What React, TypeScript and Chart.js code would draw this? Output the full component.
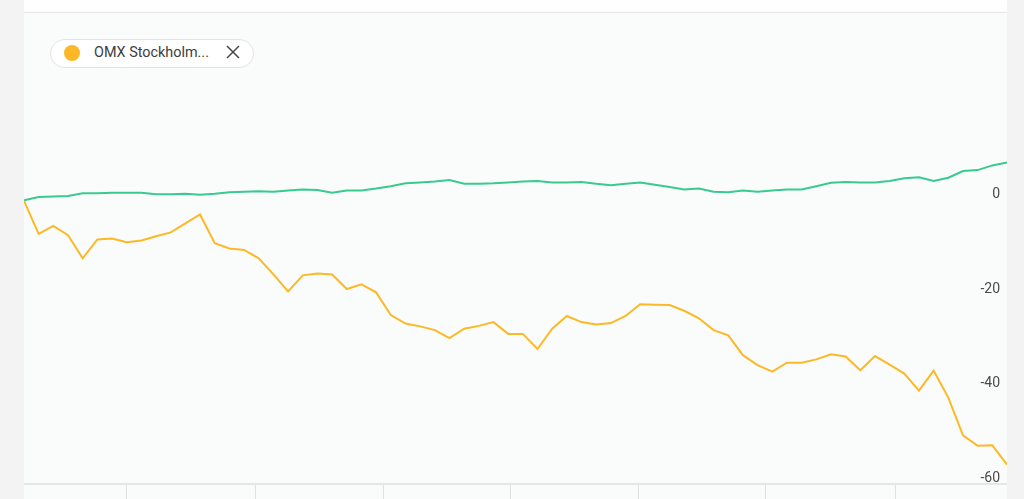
import React, { useEffect, useRef } from 'react';
import { Chart, registerables } from 'chart.js';

Chart.register(...registerables);

// OMX Stockholm (yellow) – % change
const omxValues = [
  0, -7.0, -5.3, -7.3, -12.2, -8.2, -8.0, -8.8, -8.4, -7.5,
  -6.7, -4.8, -2.9, -9.0, -10.1, -10.4, -12.2, -15.6, -19.2, -15.8,
  -15.4, -15.6, -18.7, -17.7, -19.4, -24.2, -26.0, -26.6, -27.4, -29.1,
  -27.1, -26.5, -25.7, -28.2, -28.2, -31.4, -27.1, -24.4, -25.7, -26.2,
  -25.9, -24.4, -21.9, -22.0, -22.1, -23.3, -24.9, -27.4, -28.5, -32.7,
  -34.8, -36.2, -34.3, -34.3, -33.6, -32.5, -33.0, -35.9, -32.9, -34.7,
  -36.6, -40.2, -36.0, -41.7, -49.7, -51.9, -51.8, -55.9,
];

// Comparison series (green) – % change
const compareValues = [
  0.1, 0.8, 0.9, 1.0, 1.6, 1.6, 1.7, 1.7, 1.7, 1.4,
  1.4, 1.5, 1.3, 1.5, 1.8, 1.9, 2.0, 1.9, 2.2, 2.4,
  2.3, 1.7, 2.2, 2.2, 2.6, 3.1, 3.7, 3.9, 4.1, 4.4,
  3.6, 3.6, 3.7, 3.9, 4.1, 4.2, 3.9, 3.9, 4.0, 3.6,
  3.3, 3.6, 3.9, 3.4, 2.9, 2.4, 2.6, 1.9, 1.8, 2.2,
  1.9, 2.2, 2.4, 2.4, 3.1, 3.8, 4.0, 3.9, 3.9, 4.2,
  4.8, 5.0, 4.2, 4.9, 6.3, 6.5, 7.5, 8.1,
];

const indexLabels = omxValues.map((_, i) => i);
const xTickValues = [7.02, 15.75, 24.47, 33.15, 41.85, 50.55, 59.4];
const yTickValues = [0, -20, -40, -60];
const legendLabel = 'OMX Stockholm...';

const YELLOW = '#fdb827';
const GREEN = '#38ca8f';

export default function App() {
  const canvasRef = useRef<HTMLCanvasElement | null>(null);

  useEffect(() => {
    if (!canvasRef.current) return;
    const chart = new Chart(canvasRef.current, {
      type: 'line',
      data: {
        labels: indexLabels,
        datasets: [
          {
            label: 'Comparison',
            data: compareValues,
            borderColor: GREEN,
            borderWidth: 2,
            pointRadius: 0,
            tension: 0,
            fill: false,
            order: 1,
          },
          {
            label: 'OMX Stockholm',
            data: omxValues,
            borderColor: YELLOW,
            borderWidth: 2,
            pointRadius: 0,
            tension: 0,
            fill: false,
            order: 2,
          },
        ],
      },
      options: {
        animation: false,
        responsive: false,
        layout: { padding: 0 },
        plugins: {
          legend: { display: false },
          tooltip: { enabled: false },
          title: { display: false },
        },
        scales: {
          x: {
            type: 'linear',
            min: 0,
            max: indexLabels.length - 1,
            afterBuildTicks: (s: any) => {
              s.ticks = xTickValues.map((v) => ({ value: v }));
            },
            afterFit: (s: any) => {
              s.paddingLeft = 0;
              s.paddingRight = 0;
            },
            ticks: { display: false },
            grid: {
              display: true,
              drawOnChartArea: false,
              drawTicks: true,
              tickLength: 15,
              color: '#e0e0e0',
              lineWidth: 1,
            },
            border: { display: true, color: '#e6e6e6', width: 2 },
          },
          y: {
            type: 'linear',
            position: 'right',
            min: -60,
            max: 40,
            afterBuildTicks: (s: any) => {
              s.ticks = yTickValues.map((v) => ({ value: v }));
            },
            afterFit: (s: any) => {
              s.width = 0;
              s.paddingTop = 0;
              s.paddingBottom = 0;
            },
            ticks: {
              mirror: true,
              padding: -7,
              labelOffset: -6,
              color: '#4a4a4a',
              font: { family: 'Roboto', size: 14 },
              callback: (v: any) => String(v),
            },
            grid: { display: false, drawTicks: false },
            border: { display: false },
          },
        },
      },
    });
    return () => chart.destroy();
  }, []);

  return (
    <div
      style={{
        position: 'absolute',
        left: 0,
        top: 0,
        width: 1024,
        height: 499,
        overflow: 'hidden',
        background: '#f3f3f3',
        fontFamily: 'Roboto, sans-serif',
      }}
    >
      <div
        style={{
          position: 'absolute',
          left: 24,
          top: 0,
          width: 983,
          height: 499,
          background: '#fafcfc',
        }}
      />
      <div
        style={{
          position: 'absolute',
          left: 24,
          top: 0,
          width: 983,
          height: 12,
          background: '#fefefe',
          borderBottom: '1px solid #e6e6e6',
        }}
      />
      <canvas
        ref={canvasRef}
        width={983}
        height={487}
        style={{ position: 'absolute', left: 24, top: 12, width: 983, height: 487 }}
      />
      <div
        style={{
          position: 'absolute',
          left: 50,
          top: 39,
          width: 202,
          height: 27,
          border: '1px solid #e3e3e3',
          borderRadius: 15,
          background: '#ffffff',
        }}
      >
        <div
          style={{
            position: 'absolute',
            left: 13,
            top: 5,
            width: 16,
            height: 16,
            borderRadius: 8,
            background: YELLOW,
          }}
        />
        <span
          style={{
            position: 'absolute',
            left: 43,
            top: 4,
            fontSize: 14.4,
            lineHeight: '18px',
            color: '#3d3d3d',
            whiteSpace: 'nowrap',
          }}
        >
          {legendLabel}
        </span>
        <svg
          width={14}
          height={14}
          style={{ position: 'absolute', left: 175, top: 5 }}
          viewBox="0 0 14 14"
        >
          <line x1={1} y1={1} x2={13} y2={13} stroke="#444" strokeWidth={1.5} />
          <line x1={13} y1={1} x2={1} y2={13} stroke="#444" strokeWidth={1.5} />
        </svg>
      </div>
    </div>
  );
}
